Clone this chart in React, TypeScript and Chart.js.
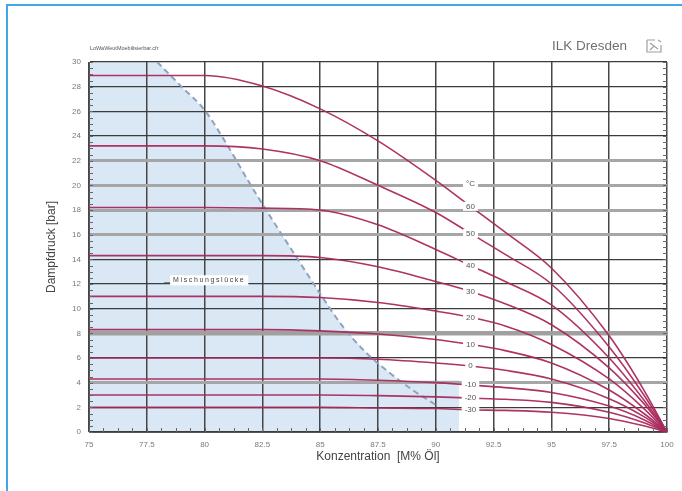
import React, { useEffect, useRef } from 'react';
import { Chart, registerables } from 'chart.js';

Chart.register(...registerables);

// ---- data ----
const concentration = [75, 80, 82.5, 85, 87.5, 90, 91.5, 93, 95, 97.5, 99, 100];
const temperatures = ['60', '50', '40', '30', '20', '10', '0', '-10', '-20', '-30'];
const p60 = [28.9, 28.9, 28.05, 26.2, 23.6, 20.4, 18.3, 16.2, 13.3, 7.8, 3.4, 0];
const p50 = [23.2, 23.2, 22.95, 22.0, 20.0, 17.8, 16.1, 14.4, 12.0, 6.9, 3.0, 0];
const p40 = [18.2, 18.2, 18.15, 18.0, 16.8, 14.8, 13.5, 12.2, 10.3, 6.0, 2.6, 0];
const p30 = [14.3, 14.3, 14.3, 14.15, 13.4, 12.2, 11.4, 10.4, 8.7, 5.2, 2.3, 0];
const p20 = [11.0, 11.0, 11.0, 10.9, 10.5, 9.8, 9.3, 8.6, 7.1, 4.3, 1.9, 0];
const p10 = [8.3, 8.3, 8.3, 8.2, 7.95, 7.5, 7.1, 6.6, 5.6, 3.4, 1.5, 0];
const p0 = [6.0, 6.0, 6.0, 6.0, 5.9, 5.6, 5.35, 5.0, 4.3, 2.7, 1.25, 0];
const pm10 = [4.3, 4.3, 4.3, 4.3, 4.2, 4.0, 3.8, 3.6, 3.2, 2.1, 1.0, 0];
const pm20 = [3.0, 3.0, 3.0, 3.0, 2.95, 2.85, 2.75, 2.65, 2.4, 1.6, 0.75, 0];
const pm30 = [2.0, 2.0, 2.0, 2.0, 1.95, 1.9, 1.8, 1.75, 1.6, 1.1, 0.5, 0];
const curves = [p60, p50, p40, p30, p20, p10, p0, pm10, pm20, pm30];

// Mischungslücke boundary
const gapX = [77.95, 79.0, 80.0, 81.0, 82.0, 83.0, 84.0, 85.0, 86.0, 87.0, 88.0, 89.0, 90.0];
const gapY = [30, 28.0, 26.1, 23.2, 20.0, 17.0, 14.1, 11.2, 8.5, 6.4, 4.8, 3.4, 2.2];
const gapTailX = [88.3, 91.0, 91.0];
const gapTailY = [4.2, 4.2, 0];

const xTickLabels = ['75', '77.5', '80', '82.5', '85', '87.5', '90', '92.5', '95', '97.5', '100'];
const yTickLabels = ['0', '2', '4', '6', '8', '10', '12', '14', '16', '18', '20', '22', '24', '26', '28', '30'];

const labelConcentration = 91.5;
const unitLabel = '°C';
const gapLabel = 'Mischungslücke';
const gapLabelX = 80.2;
const gapLabelY = 12.3;

// ---- styles ----
const curveColor = 'rgba(170,40,92,0.95)';
const grayGrid = [4, 16, 18, 20, 22];
const heavyGrid = [8];
const FONT = "'Liberation Sans', Arial, sans-serif";

export default function App() {
  const ref = useRef<HTMLCanvasElement>(null);

  useEffect(() => {
    const canvas = ref.current!;

    const gapFill = {
      id: 'gapFill',
      beforeDraw(chart: any) {
        const { ctx, scales: { x, y } } = chart;
        ctx.save();
        ctx.fillStyle = '#d9e8f4';
        ctx.beginPath();
        ctx.moveTo(x.getPixelForValue(75), y.getPixelForValue(0));
        ctx.lineTo(x.getPixelForValue(75), y.getPixelForValue(30));
        gapX.forEach((gx, i) => ctx.lineTo(x.getPixelForValue(gx), y.getPixelForValue(gapY[i])));
        gapTailX.forEach((gx, i) => ctx.lineTo(x.getPixelForValue(gx), y.getPixelForValue(gapTailY[i])));
        ctx.closePath();
        ctx.fill();
        ctx.restore();
      },
    };

    const labels = {
      id: 'curveLabels',
      afterDatasetsDraw(chart: any) {
        const { ctx, scales: { x, y } } = chart;
        const idx = concentration.indexOf(labelConcentration);
        const px = x.getPixelForValue(labelConcentration);
        ctx.save();
        ctx.font = `8px ${FONT}`;
        ctx.textAlign = 'center';
        ctx.textBaseline = 'middle';
        const items = temperatures.map((t, i) => ({ t, v: curves[i][idx] }));
        items.unshift({ t: unitLabel, v: curves[0][idx] + 1.8 });
        items.forEach(({ t, v }) => {
          const py = y.getPixelForValue(v);
          const w = ctx.measureText(t).width + 6;
          ctx.fillStyle = '#ffffff';
          ctx.fillRect(px - w / 2, py - 4.5, w, 9);
          ctx.fillStyle = '#555555';
          ctx.fillText(t, px, py);
        });
        // Mischungslücke label
        const gx = x.getPixelForValue(gapLabelX);
        const gy = y.getPixelForValue(gapLabelY);
        ctx.font = `7px ${FONT}`;
        (ctx as any).letterSpacing = '1.6px';
        const gw = ctx.measureText(gapLabel).width + 6;
        ctx.fillStyle = '#ffffff';
        ctx.fillRect(gx - gw / 2, gy - 5, gw, 10);
        ctx.fillStyle = '#444444';
        ctx.fillText(gapLabel, gx, gy);
        ctx.strokeStyle = '#555';
        ctx.lineWidth = 1;
        ctx.beginPath();
        ctx.moveTo(gx - gw / 2 - 6, gy + 2.5);
        ctx.lineTo(gx - gw / 2, gy + 2.5);
        ctx.stroke();
        ctx.restore();
      },
    };

    const minorTicks = {
      id: 'minorTicks',
      afterDraw(chart: any) {
        const { ctx, chartArea: a, scales: { x, y } } = chart;
        ctx.save();
        ctx.strokeStyle = '#666666';
        ctx.lineWidth = 1;
        ctx.beginPath();
        for (let v = 0; v <= 30.001; v += 0.5) {
          const py = Math.round(y.getPixelForValue(v)) + 0.5;
          ctx.moveTo(a.left, py);
          ctx.lineTo(a.left + 4, py);
          ctx.moveTo(a.right, py);
          ctx.lineTo(a.right - 4, py);
        }
        for (let v = 75; v <= 100.001; v += 0.625) {
          const px = Math.round(x.getPixelForValue(v)) + 0.5;
          ctx.moveTo(px, a.bottom);
          ctx.lineTo(px, a.bottom - 4);
        }
        ctx.stroke();
        ctx.restore();
      },
    };

    const datasets: any[] = curves.map((vals, i) => ({
      label: temperatures[i] + ' °C',
      data: concentration.map((c, j) => ({ x: c, y: vals[j] })),
      borderColor: curveColor,
      borderWidth: 1.6,
      pointRadius: 0,
      cubicInterpolationMode: 'monotone',
      fill: false,
    }));
    datasets.push({
      label: gapLabel,
      data: gapX.map((gx, i) => ({ x: gx, y: gapY[i] })),
      borderColor: '#8ea3bd',
      borderWidth: 2,
      borderDash: [6, 4],
      pointRadius: 0,
      cubicInterpolationMode: 'monotone',
      fill: false,
    });

    const chart = new Chart(canvas, {
      type: 'line',
      data: { datasets },
      plugins: [gapFill, labels, minorTicks],
      options: {
        animation: false,
        responsive: false,
        layout: { padding: { left: 44, right: 15, top: 62, bottom: 27 } },
        plugins: { legend: { display: false }, tooltip: { enabled: false } },
        scales: {
          x: {
            type: 'linear',
            min: 75,
            max: 100,
            afterFit: (s: any) => { s.height = 32; },
            afterBuildTicks: (s: any) => {
              s.ticks = xTickLabels.map((l) => ({ value: parseFloat(l) }));
            },
            ticks: {
              padding: 8,
              color: '#7a7a7a',
              font: { size: 8, family: FONT },
              maxRotation: 0,
              callback: (v: any, i: number) => xTickLabels[i],
            },
            grid: { color: '#464646', lineWidth: 1.5, drawTicks: false },
            border: { display: true, color: '#555', width: 1 },
            title: {
              display: true,
              text: 'Konzentration  [M% Öl]',
              color: '#444',
              font: { size: 12, family: FONT },
              padding: { top: 0, bottom: 0 },
            },
          },
          y: {
            type: 'linear',
            min: 0,
            max: 30,
            afterFit: (s: any) => { s.width = 45; },
            afterBuildTicks: (s: any) => {
              s.ticks = yTickLabels.map((l) => ({ value: parseFloat(l) }));
            },
            ticks: {
              padding: 8,
              color: '#7a7a7a',
              font: { size: 8, family: FONT },
              callback: (v: any, i: number) => yTickLabels[i],
            },
            grid: {
              drawTicks: false,
              color: (c: any) => {
                const v = c.tick ? c.tick.value : 0;
                if (heavyGrid.includes(v)) return '#a0a0a0';
                if (grayGrid.includes(v)) return '#a6a6a6';
                return '#3c3c3c';
              },
              lineWidth: (c: any) => {
                const v = c.tick ? c.tick.value : 0;
                if (heavyGrid.includes(v)) return 4.5;
                if (grayGrid.includes(v)) return 3;
                return 1.2;
              },
            },
            border: { display: true, color: '#555', width: 1 },
            title: {
              display: true,
              text: 'Dampfdruck [bar]',
              color: '#444',
              font: { size: 12, family: FONT },
              padding: { top: 0, bottom: 0 },
            },
          },
        },
      },
    } as any);

    return () => chart.destroy();
  }, []);

  return (
    <div style={{ position: 'fixed', left: 0, top: 0, width: 682, height: 491, background: '#fff', overflow: 'hidden' }}>
      <div
        style={{
          position: 'absolute', left: 6, top: 4, width: 680, height: 490,
          borderTop: '2px solid #42a7e4', borderLeft: '2px solid #42a7e4',
        }}
      />
      <canvas ref={ref} width={682} height={491} style={{ position: 'absolute', left: 0, top: 0, width: 682, height: 491 }} />
      <div
        style={{
          position: 'absolute', left: 90, top: 45, fontSize: 5.5, color: '#555',
          fontFamily: FONT, whiteSpace: 'nowrap', lineHeight: '7px',
        }}
      >
        LoWaWeutMoebilisierbar.cfr
      </div>
      <div
        style={{
          position: 'absolute', left: 552, top: 38, fontSize: 13.5, color: '#707070',
          fontFamily: FONT, whiteSpace: 'nowrap', lineHeight: '16px',
        }}
      >
        ILK Dresden
      </div>
      <svg style={{ position: 'absolute', left: 646, top: 39 }} width={16} height={14} viewBox="0 0 16 14">
        <path d="M1 1 H9 M1 1 V13 H15 V6 M4 4 L12 10 M12 1 L15 3 M8 7 L4 11" stroke="#a0a0a0" strokeWidth={1.2} fill="none" />
      </svg>
    </div>
  );
}
